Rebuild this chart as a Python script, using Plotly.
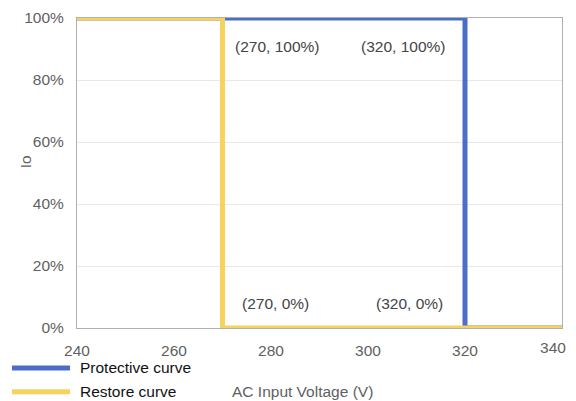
import plotly.graph_objects as go

# Data
protective_x = [240, 320, 320, 340]
protective_y = [100, 100, 0, 0]
restore_x = [240, 270, 270, 340]
restore_y = [100, 100, 0, 0]
series_names = ["Protective curve", "Restore curve"]
point_labels = ["(270, 100%)", "(320, 100%)", "(270, 0%)", "(320, 0%)"]
label_x = [270, 320, 270, 320]
label_y = [100, 100, 0, 0]
x_ticks = [240, 260, 280, 300, 320]
x_last_tick = [340]
y_ticks = [0, 20, 40, 60, 80, 100]
y_tick_text = ["0%", "20%", "40%", "60%", "80%", "100%"]

BLUE = "#4a6fc6"
YELLOW = "#f5d35c"
GRAY = "#5f5f5f"
FONT = "Liberation Sans, Arial, sans-serif"
FS = 15.5

fig = go.Figure()
fig.add_trace(go.Scatter(x=protective_x, y=protective_y, mode="lines",
                         name=series_names[0], line=dict(color=BLUE, width=5)))
fig.add_trace(go.Scatter(x=restore_x, y=restore_y, mode="lines",
                         name=series_names[1], line=dict(color=YELLOW, width=5)))
# invisible helper trace so the overlay axis carrying the last tick label is drawn
fig.add_trace(go.Scatter(x=x_last_tick, y=[0], xaxis="x2", mode="markers",
                         marker=dict(opacity=0), hoverinfo="skip", showlegend=False))

# point labels
shifts = [(10, -28, "left"), (-18.5, -28, "right"), (17.5, 25, "left"), (-20.5, 25, "right")]
for txt, lx, ly, (dx, dy, anc) in zip(point_labels, label_x, label_y, shifts):
    fig.add_annotation(x=lx, y=ly, xref="x", yref="y", text=txt, showarrow=False,
                       xanchor=anc, yanchor="middle", xshift=dx, yshift=dy,
                       font=dict(size=FS, color="#444444", family=FONT))

# custom legend
leg_y = [-0.129, -0.206]
for name, col, yy in zip(series_names, [BLUE, YELLOW], leg_y):
    fig.add_shape(type="line", xref="paper", yref="paper",
                  x0=-0.134, x1=-0.0144, y0=yy, y1=yy,
                  line=dict(color=col, width=5))
    fig.add_annotation(x=0.002, y=yy, xref="paper", yref="paper", text=name,
                       showarrow=False, xanchor="left", yanchor="middle",
                       font=dict(size=FS, color="#111111", family=FONT))

# axis titles
fig.add_annotation(x=286.5, y=-0.206, xref="x", yref="paper", text="AC Input Voltage (V)",
                   showarrow=False, xanchor="center", yanchor="middle",
                   font=dict(size=FS, color=GRAY, family=FONT))
fig.add_annotation(x=-0.107, y=0.535, xref="paper", yref="paper", text="Io",
                   textangle=-90, showarrow=False, xanchor="center", yanchor="middle",
                   font=dict(size=FS, color=GRAY, family=FONT))

fig.update_layout(
    width=576, height=401,
    margin=dict(l=69, r=22, t=10, b=81),
    paper_bgcolor="white", plot_bgcolor="white",
    showlegend=False,
    font=dict(family=FONT, size=FS, color=GRAY),
    xaxis2=dict(overlaying="x", anchor="y", side="bottom", range=[240, 340],
                tickvals=x_last_tick, showgrid=False, zeroline=False, showline=False,
                ticks="", ticklabelstandoff=8, ticklabelshift=-9, automargin=False,
                ticklabeloverflow="allow", tickfont=dict(size=FS, color=GRAY)),
)
fig.update_xaxes(selector=dict(anchor="y", overlaying=None), range=[240, 340])
fig.layout.xaxis.update(range=[240, 340], tickvals=x_ticks, showgrid=False, zeroline=False,
                        showline=True, linecolor="#b0b0b0", linewidth=1, mirror=True,
                        ticks="", ticklabelstandoff=8, automargin=False,
                        ticklabeloverflow="allow",
                        tickfont=dict(size=FS, color=GRAY))
fig.update_yaxes(range=[0, 100], tickvals=y_ticks, ticktext=y_tick_text, showgrid=True,
                 gridcolor="#e8e8e8", zeroline=False,
                 showline=True, linecolor="#b0b0b0", linewidth=1, mirror=True,
                 ticks="", ticklabelstandoff=9, automargin=False,
                 tickfont=dict(size=FS, color=GRAY))

fig.write_html("out.html")
